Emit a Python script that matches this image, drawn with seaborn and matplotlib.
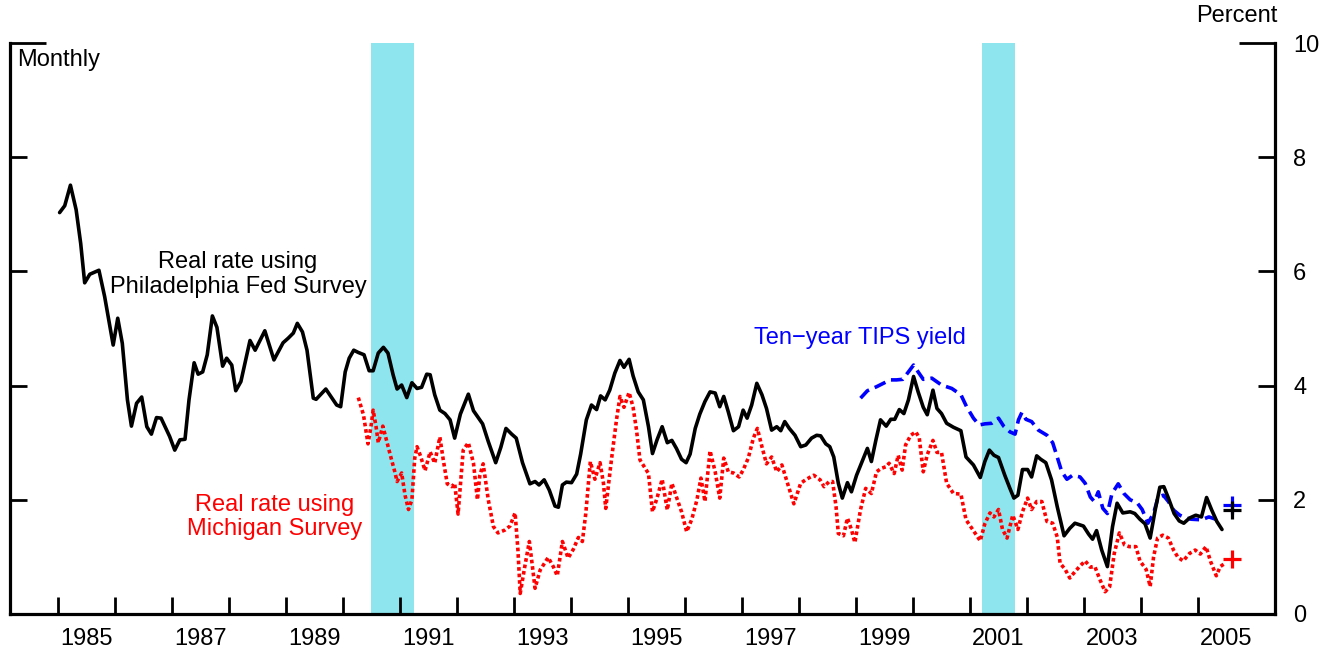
# Real ten-year rates: Philadelphia Fed, Michigan survey and TIPS yield
import matplotlib
matplotlib.use("Agg")
import matplotlib.pyplot as plt
import pandas as pd
import seaborn as sns

# decimal-year dates and values (percent)
phil_dates = [
    1985.03, 1985.12, 1985.22, 1985.32, 1985.40, 1985.47, 1985.56, 1985.72, 1985.82, 1985.97,
    1986.05, 1986.13, 1986.22, 1986.29, 1986.38, 1986.47, 1986.56, 1986.64, 1986.73, 1986.81,
    1986.88, 1986.96, 1987.05, 1987.14, 1987.23, 1987.30, 1987.39, 1987.46, 1987.54, 1987.62,
    1987.71, 1987.79, 1987.89, 1987.96, 1988.05, 1988.12, 1988.21, 1988.37, 1988.46, 1988.63,
    1988.79, 1988.95, 1989.04, 1989.13, 1989.20, 1989.29, 1989.37, 1989.48, 1989.53, 1989.70,
    1989.89, 1989.96, 1990.04, 1990.11, 1990.19, 1990.27, 1990.37, 1990.46, 1990.53, 1990.62,
    1990.71, 1990.79, 1990.88, 1990.95, 1991.03, 1991.12, 1991.21, 1991.30, 1991.38, 1991.47,
    1991.53, 1991.61, 1991.70, 1991.79, 1991.88, 1991.96, 1992.06, 1992.20, 1992.29, 1992.45,
    1992.55, 1992.68, 1992.77, 1992.86, 1992.96, 1993.04, 1993.15, 1993.28, 1993.37, 1993.44,
    1993.53, 1993.62, 1993.72, 1993.78, 1993.85, 1993.92, 1994.01, 1994.10, 1994.17, 1994.27,
    1994.36, 1994.45, 1994.52, 1994.60, 1994.68, 1994.77, 1994.86, 1994.93, 1995.02, 1995.09,
    1995.18, 1995.27, 1995.36, 1995.43, 1995.51, 1995.60, 1995.69, 1995.77, 1995.85, 1995.94,
    1996.02, 1996.09, 1996.18, 1996.26, 1996.35, 1996.44, 1996.53, 1996.61, 1996.68, 1996.76,
    1996.85, 1996.94, 1997.02, 1997.09, 1997.17, 1997.26, 1997.35, 1997.43, 1997.52, 1997.61,
    1997.68, 1997.75, 1997.83, 1997.93, 1998.03, 1998.12, 1998.22, 1998.31, 1998.38, 1998.47,
    1998.54, 1998.61, 1998.69, 1998.76, 1998.85, 1998.92, 1999.01, 1999.12, 1999.20, 1999.27,
    1999.35, 1999.43, 1999.53, 1999.61, 1999.68, 1999.76, 1999.84, 1999.92, 2000.01, 2000.09,
    2000.18, 2000.25, 2000.35, 2000.42, 2000.50, 2000.59, 2000.71, 2000.84, 2000.93, 2001.06,
    2001.18, 2001.26, 2001.34, 2001.42, 2001.50, 2001.61, 2001.70, 2001.77, 2001.84, 2001.92,
    2002.01, 2002.08, 2002.17, 2002.24, 2002.33, 2002.43, 2002.53, 2002.65, 2002.75, 2002.84,
    2002.99, 2003.08, 2003.15, 2003.22, 2003.31, 2003.41, 2003.50, 2003.58, 2003.68, 2003.81,
    2003.89, 2003.98, 2004.07, 2004.16, 2004.25, 2004.33, 2004.40, 2004.48, 2004.58, 2004.67,
    2004.75, 2004.85, 2004.96, 2005.06, 2005.15, 2005.24, 2005.33, 2005.42,
]
phil_rate = [
    7.03, 7.15, 7.51, 7.08, 6.49, 5.80, 5.95, 6.02, 5.56, 4.71,
    5.18, 4.74, 3.75, 3.29, 3.69, 3.80, 3.28, 3.15, 3.44, 3.43,
    3.28, 3.11, 2.87, 3.05, 3.06, 3.75, 4.40, 4.20, 4.24, 4.54,
    5.22, 5.02, 4.34, 4.48, 4.36, 3.91, 4.07, 4.79, 4.62, 4.96,
    4.45, 4.75, 4.83, 4.92, 5.09, 4.94, 4.62, 3.78, 3.76, 3.94,
    3.66, 3.63, 4.24, 4.48, 4.62, 4.58, 4.54, 4.26, 4.26, 4.57,
    4.67, 4.57, 4.19, 3.94, 4.01, 3.79, 4.05, 3.95, 3.97, 4.20,
    4.19, 3.84, 3.57, 3.51, 3.40, 3.08, 3.50, 3.85, 3.56, 3.33,
    3.02, 2.65, 2.92, 3.25, 3.15, 3.08, 2.65, 2.28, 2.32, 2.26,
    2.35, 2.17, 1.89, 1.87, 2.26, 2.31, 2.30, 2.45, 2.80, 3.40,
    3.66, 3.58, 3.82, 3.75, 3.92, 4.22, 4.44, 4.32, 4.46, 4.17,
    3.89, 3.75, 3.28, 2.81, 3.05, 3.28, 3.00, 3.04, 2.90, 2.71,
    2.65, 2.80, 3.25, 3.50, 3.72, 3.89, 3.87, 3.63, 3.81, 3.54,
    3.21, 3.28, 3.57, 3.43, 3.66, 4.04, 3.84, 3.60, 3.22, 3.28,
    3.21, 3.37, 3.25, 3.13, 2.93, 2.96, 3.08, 3.13, 3.12, 2.98,
    2.93, 2.75, 2.29, 2.03, 2.30, 2.14, 2.43, 2.70, 2.90, 2.67,
    3.05, 3.40, 3.29, 3.41, 3.41, 3.58, 3.51, 3.75, 4.16, 3.89,
    3.62, 3.49, 3.92, 3.60, 3.51, 3.34, 3.27, 3.21, 2.75, 2.61,
    2.39, 2.67, 2.87, 2.78, 2.74, 2.43, 2.20, 2.03, 2.08, 2.53,
    2.53, 2.40, 2.77, 2.71, 2.65, 2.35, 1.88, 1.37, 1.50, 1.59,
    1.54, 1.40, 1.31, 1.46, 1.12, 0.83, 1.53, 1.94, 1.77, 1.79,
    1.76, 1.66, 1.58, 1.33, 1.83, 2.22, 2.23, 2.03, 1.76, 1.63,
    1.59, 1.68, 1.73, 1.70, 2.04, 1.82, 1.62, 1.48,
]

mich_dates = [
    1990.27, 1990.36, 1990.44, 1990.49, 1990.53, 1990.58, 1990.62, 1990.70, 1990.77, 1990.84,
    1990.91, 1990.95, 1991.03, 1991.09, 1991.15, 1991.21, 1991.26, 1991.30, 1991.36, 1991.44,
    1991.53, 1991.61, 1991.70, 1991.76, 1991.83, 1991.91, 1991.96, 1992.02, 1992.11, 1992.20,
    1992.29, 1992.36, 1992.40, 1992.46, 1992.55, 1992.64, 1992.72, 1992.84, 1992.93, 1993.02,
    1993.07, 1993.11, 1993.19, 1993.27, 1993.31, 1993.37, 1993.46, 1993.60, 1993.69, 1993.76,
    1993.85, 1993.95, 1994.04, 1994.13, 1994.20, 1994.26, 1994.34, 1994.42, 1994.51, 1994.57,
    1994.61, 1994.71, 1994.80, 1994.86, 1994.93, 1995.02, 1995.09, 1995.15, 1995.21, 1995.36,
    1995.43, 1995.51, 1995.60, 1995.69, 1995.77, 1995.85, 1995.94, 1996.03, 1996.12, 1996.21,
    1996.28, 1996.35, 1996.44, 1996.53, 1996.61, 1996.68, 1996.76, 1996.85, 1996.95, 1997.02,
    1997.11, 1997.20, 1997.27, 1997.35, 1997.43, 1997.52, 1997.61, 1997.70, 1997.78, 1997.91,
    1998.03, 1998.13, 1998.26, 1998.37, 1998.44, 1998.53, 1998.59, 1998.65, 1998.69, 1998.78,
    1998.85, 1998.92, 1998.98, 1999.08, 1999.17, 1999.27, 1999.36, 1999.44, 1999.53, 1999.58,
    1999.67, 1999.74, 1999.81, 1999.87, 1999.96, 2000.05, 2000.11, 2000.18, 2000.25, 2000.35,
    2000.42, 2000.50, 2000.59, 2000.71, 2000.84, 2000.93, 2001.06, 2001.18, 2001.26, 2001.35,
    2001.42, 2001.50, 2001.57, 2001.65, 2001.75, 2001.84, 2001.92, 2002.01, 2002.08, 2002.17,
    2002.26, 2002.35, 2002.45, 2002.53, 2002.58, 2002.67, 2002.75, 2002.84, 2002.93, 2003.02,
    2003.11, 2003.19, 2003.28, 2003.37, 2003.45, 2003.53, 2003.62, 2003.71, 2003.79, 2003.91,
    2003.98, 2004.09, 2004.16, 2004.22, 2004.29, 2004.38, 2004.48, 2004.57, 2004.65, 2004.74,
    2004.85, 2004.95, 2005.04, 2005.14, 2005.22, 2005.32, 2005.39, 2005.46,
]
mich_rate = [
    3.79, 3.49, 2.98, 3.27, 3.57, 3.29, 3.00, 3.29, 3.02, 2.75,
    2.49, 2.32, 2.47, 2.08, 1.83, 2.00, 2.73, 2.93, 2.77, 2.51,
    2.84, 2.64, 3.10, 2.70, 2.28, 2.23, 2.29, 1.75, 2.87, 3.00,
    2.64, 2.00, 2.42, 2.63, 2.00, 1.53, 1.42, 1.47, 1.54, 1.77,
    1.12, 0.36, 0.83, 1.27, 0.95, 0.45, 0.77, 0.99, 0.83, 0.67,
    1.27, 0.98, 1.13, 1.34, 1.27, 1.76, 2.67, 2.36, 2.65, 2.29,
    1.85, 2.70, 3.41, 3.81, 3.62, 3.88, 3.62, 3.22, 2.70, 2.46,
    1.79, 2.03, 2.36, 1.82, 2.29, 2.05, 1.79, 1.44, 1.66, 2.00,
    2.38, 1.97, 2.86, 2.49, 2.03, 2.73, 2.49, 2.47, 2.40, 2.52,
    2.73, 3.08, 3.25, 2.93, 2.63, 2.75, 2.49, 2.61, 2.35, 1.93,
    2.29, 2.36, 2.43, 2.35, 2.23, 2.32, 2.32, 1.88, 1.41, 1.37,
    1.68, 1.48, 1.25, 1.83, 2.20, 2.11, 2.49, 2.55, 2.58, 2.64,
    2.46, 2.78, 2.52, 2.96, 3.13, 3.19, 3.08, 2.49, 2.79, 3.04,
    2.83, 2.83, 2.29, 2.11, 2.10, 1.65, 1.46, 1.28, 1.58, 1.77,
    1.70, 1.83, 1.48, 1.33, 1.73, 1.48, 1.79, 2.03, 1.83, 1.97,
    1.97, 1.62, 1.59, 1.35, 0.89, 0.78, 0.63, 0.74, 0.84, 0.93,
    0.82, 0.83, 0.60, 0.39, 0.48, 1.06, 1.42, 1.21, 1.18, 1.18,
    0.93, 0.78, 0.48, 1.00, 1.33, 1.38, 1.33, 1.12, 0.99, 0.93,
    1.06, 1.12, 1.05, 1.18, 0.92, 0.67, 0.83, 0.88,
]

tips_dates = [
    1999.08, 1999.20, 1999.36, 1999.48, 1999.60, 1999.71, 1999.82, 1999.92, 2000.01, 2000.09,
    2000.18, 2000.33, 2000.50, 2000.68, 2000.84, 2000.94, 2001.06, 2001.16, 2001.26, 2001.38,
    2001.50, 2001.59, 2001.70, 2001.79, 2001.85, 2001.91, 2001.98, 2002.08, 2002.20, 2002.35,
    2002.45, 2002.52, 2002.61, 2002.70, 2002.80, 2002.93, 2003.02, 2003.11, 2003.18, 2003.25,
    2003.33, 2003.41, 2003.49, 2003.60, 2003.70, 2003.81, 2003.93, 2004.02, 2004.12, 2004.22,
    2004.30, 2004.39, 2004.48, 2004.57, 2004.68, 2004.79, 2004.88, 2005.06, 2005.19, 2005.31,
    2005.40,
]
tips_yield = [
    3.78, 3.91, 3.98, 4.04, 4.10, 4.10, 4.11, 4.24, 4.36, 4.24,
    4.11, 4.13, 4.01, 3.95, 3.84, 3.63, 3.43, 3.31, 3.33, 3.34,
    3.43, 3.29, 3.19, 3.15, 3.40, 3.53, 3.41, 3.37, 3.22, 3.13,
    3.00, 2.78, 2.49, 2.36, 2.43, 2.40, 2.29, 2.05, 1.97, 2.14,
    1.85, 1.76, 2.11, 2.28, 2.11, 2.00, 1.95, 1.83, 1.59, 1.76,
    2.05, 2.08, 1.97, 1.82, 1.73, 1.68, 1.66, 1.65, 1.70, 1.66,
    1.65,
]

# latest readings shown as crosses after the lines end
last_date = 2005.59
last_phil, last_mich, last_tips = 1.82, 0.96, 1.91

recessions = [(1990.49, 1991.25), (2001.21, 2001.79)]
year_ticks = list(range(1985, 2006))
year_labels = [str(y) for y in range(1985, 2006, 2)]

sns.set_theme(style="white")
plt.rcParams["font.family"] = ["Liberation Sans", "DejaVu Sans"]
plt.rcParams["text.color"] = "black"
plt.rcParams["xtick.color"] = "black"
plt.rcParams["ytick.color"] = "black"
FS = 17

phil = pd.DataFrame({"date": phil_dates, "rate": phil_rate})
mich = pd.DataFrame({"date": mich_dates, "rate": mich_rate})
tips = pd.DataFrame({"date": tips_dates, "rate": tips_yield})

fig = plt.figure(figsize=(13.34, 6.54), dpi=100)
ax = fig.add_axes([10 / 1334, 40 / 654, 1265 / 1334, 571 / 654])

for start, end in recessions:
    ax.axvspan(start, end, color="#8EE5EE", lw=0, zorder=0)

sns.lineplot(data=phil, x="date", y="rate", ax=ax, color="black", lw=2.6, zorder=3)
sns.lineplot(data=mich, x="date", y="rate", ax=ax, color="#FF0000", lw=2.6,
             linestyle=(0, (1.0, 0.8)), zorder=2)
sns.lineplot(data=tips, x="date", y="rate", ax=ax, color="#0000FF", lw=2.6,
             linestyle=(0, (3.3, 1.7)), zorder=2)

ax.plot([last_date], [last_tips], marker="+", ms=13, mew=2.3, color="#0000FF", ls="none")
ax.plot([last_date], [last_phil], marker="+", ms=13, mew=2.3, color="black", ls="none")
ax.plot([last_date], [last_mich], marker="+", ms=13, mew=2.3, color="#FF0000", ls="none")

ax.set_xlim(1984.16, 2006.35)
ax.set_ylim(0, 10)
ax.set_xlabel("")
ax.set_ylabel("")

# x: year boundaries as ticks, labels centred mid-year
ax.set_xticks(year_ticks)
ax.set_xticklabels([])
ax.set_xticks([y + 0.5 for y in range(1985, 2006, 2)], minor=True)
ax.set_xticklabels(year_labels, minor=True, fontsize=FS)
ax.tick_params(axis="x", which="major", direction="in", length=12, width=2, bottom=True)
ax.tick_params(axis="x", which="minor", length=0, pad=10, bottom=True)

# y: long ticks at 0 and 10, shorter ones between, labels on the right
ax.set_yticks([0, 10])
ax.set_yticklabels(["0", "10"])
ax.set_yticks([2, 4, 6, 8], minor=True)
ax.set_yticklabels(["2", "4", "6", "8"], minor=True)
ax.tick_params(axis="y", which="major", direction="in", length=26, width=2,
               left=True, right=True, labelleft=False, labelright=True, pad=13,
               labelsize=FS)
ax.tick_params(axis="y", which="minor", direction="in", length=12.5, width=2,
               left=True, right=True, labelleft=False, labelright=True, pad=13,
               labelsize=FS)

for side in ["left", "right", "bottom"]:
    ax.spines[side].set_visible(True)
    ax.spines[side].set_color("black")
    ax.spines[side].set_linewidth(2.3)
ax.spines["top"].set_visible(False)
ax.grid(False)

ax.text(1988.16, 5.95, "Real rate using\nPhiladelphia Fed Survey", ha="center", va="center",
        fontsize=FS, color="black", linespacing=1.15)
ax.text(1988.81, 1.70, "Real rate using\nMichigan Survey", ha="center", va="center",
        fontsize=FS, color="#FF0000", linespacing=1.15)
ax.text(1999.07, 4.83, "Ten\u2212year TIPS yield", ha="center", va="center",
        fontsize=FS, color="#0000FF")
ax.text(0.006, 0.97, "Monthly", transform=ax.transAxes, ha="left", va="center", fontsize=FS)
fig.text(1237 / 1334, 1 - 16 / 654, "Percent", ha="center", va="center", fontsize=FS)

fig.savefig("out.png", dpi=100)
